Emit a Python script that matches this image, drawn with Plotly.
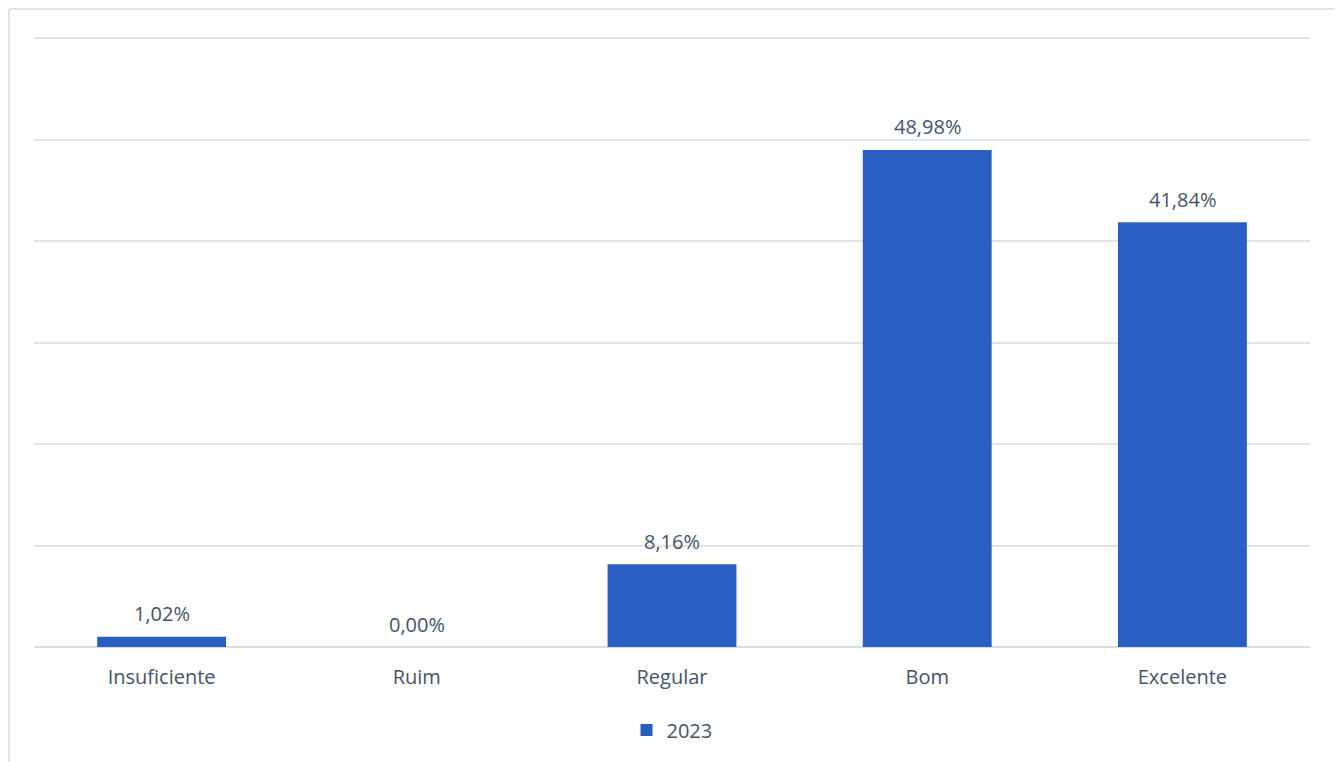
import plotly.graph_objects as go

categories = ["Insuficiente", "Ruim", "Regular", "Bom", "Excelente"]
values_2023 = [1.02, 0.00, 8.16, 48.98, 41.84]
series_name = "2023"
labels = [f"{v:.2f}".replace(".", ",") + "%" for v in values_2023]

TEXT = "#44546a"
FONT = "Open Sans"
FS = 20

fig = go.Figure()
fig.add_trace(go.Bar(
    x=categories, y=values_2023, name=series_name,
    marker=dict(color="#295fc2", line=dict(width=0)),
))

# page body has an 8px offset; work in window pixels
OFF = 8
W, H = 1343, 762
YMAX = 60.3
plot_left, plot_right = 34, 1310
base_y = 647
top_y = base_y - 609 * YMAX / 60
ml = plot_left - OFF
mr = W - (plot_right - OFF)
mt = top_y - OFF
mb = H - (base_y - OFF)
pw, ph = W - ml - mr, H - mt - mb

def px_x(p):
    return (p - OFF - ml) / pw

def px_y(p):
    return (H - mb - (p - OFF)) / ph

annotations = [
    dict(x=c, y=v, xref="x", yref="y", text=t, showarrow=False, yshift=23,
         font=dict(family=FONT, size=FS, color=TEXT), yanchor="middle")
    for c, v, t in zip(categories, values_2023, labels)
]

border = dict(color="#dfe3ea", width=2)
fig.update_layout(
    width=W, height=H,
    margin=dict(l=ml, r=mr, t=mt, b=mb),
    paper_bgcolor="white", plot_bgcolor="white",
    bargap=0.495,
    font=dict(family=FONT, size=FS, color=TEXT),
    showlegend=True,
    legend=dict(orientation="h", x=0.5, xanchor="center", y=px_y(730), yanchor="middle",
                font=dict(family=FONT, size=FS, color=TEXT)),
    xaxis=dict(showgrid=False, showline=False, ticks="", ticklabelstandoff=16,
               tickfont=dict(family=FONT, size=FS, color=TEXT)),
    yaxis=dict(range=[0, YMAX], dtick=10, showgrid=True, gridcolor="#e1e4e8", gridwidth=1.5,
               showticklabels=False, zeroline=True, zerolinecolor="#d9dce1", zerolinewidth=1.5,
               showline=False),
    annotations=annotations,
    shapes=[
        dict(type="line", xref="paper", yref="paper", x0=px_x(9), x1=px_x(1339),
             y0=px_y(9), y1=px_y(9), line=border, layer="below"),
        dict(type="line", xref="paper", yref="paper", x0=px_x(1339), x1=px_x(1339),
             y0=px_y(9), y1=px_y(770), line=border, layer="below"),
        dict(type="line", xref="paper", yref="paper", x0=px_x(9), x1=px_x(9),
             y0=px_y(9), y1=px_y(770), line=border, layer="below"),
    ],
)

fig.write_html("out.html")
